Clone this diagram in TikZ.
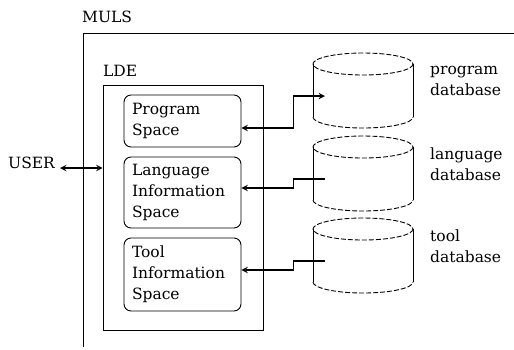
\documentclass[tikz,border=0pt]{standalone}
\usepackage{fontspec}
\setmainfont{DejaVu Serif}
\usetikzlibrary{positioning}
\begin{document}
\begin{tikzpicture}[x=1pt, y=-1pt, >=stealth,
  font=\fontsize{15.5}{21}\selectfont,
  frame/.style={line width=0.9pt},
  space/.style={draw, frame, rounded corners=7pt, minimum width=117pt, minimum height=#1, text width=101pt, inner xsep=8pt, align=left},
  link/.style={line width=1.8pt},
  rim/.style={line width=0.9pt, dash pattern=on 5pt off 2pt}]
  \useasboundingbox (0,0) rectangle (514,349);
  % MULS
  \node[anchor=west, inner sep=0] (muls) at (82,17) {MULS};
  \draw[frame] (514,33) -- (83,33) -- (83,347);
  % LDE
  \node[draw, frame, minimum width=160pt, minimum height=245pt] (lde) at (183,207.5) {};
  \node[anchor=west, inner sep=0] (ldename) at (103,71) {LDE};
  \node[space=52pt] (ps) at (182.5,121) {Program\\Space};
  \node[space=71pt] (lis) at (182.5,192.5) {Language\\Information\\Space};
  \node[space=73pt] (tis) at (182.5,274.5) {Tool\\Information\\Space};
  % USER
  \node[anchor=west, inner sep=0] (user) at (8,163) {USER};
  \coordinate (u) at (60,168);
  \draw[link, <->] (u) -- (u -| lde.west);
  % databases
  \foreach \y/\name/\txt in {64/pdb/program, 147/ldb/language, 229/tdb/tool} {
    \draw[frame] (313,\y) -- (313,\y+53);
    \draw[frame] (413,\y) -- (413,\y+53);
    \draw[rim] (313,\y+53) arc[start angle=180, end angle=0, x radius=50, y radius=11];
    \draw[rim] (363,\y) ellipse[x radius=50, y radius=11];
    \node[anchor=west, align=left, inner sep=0] (\name txt) at (430,\y+17) {\txt\\database};
    \coordinate (\name) at (325,\y+32);
  }
  \draw[link, <->] ([yshift=-7pt]ps.east) -- ++(52,0) |- (pdb);
  \draw[link, <-] ([yshift=4.5pt]lis.east) -- ++(52,0) |- (ldb);
  \draw[link, <-] ([yshift=4.5pt]tis.east) -- ++(52,0) |- (tdb);
\end{tikzpicture}
\end{document}
